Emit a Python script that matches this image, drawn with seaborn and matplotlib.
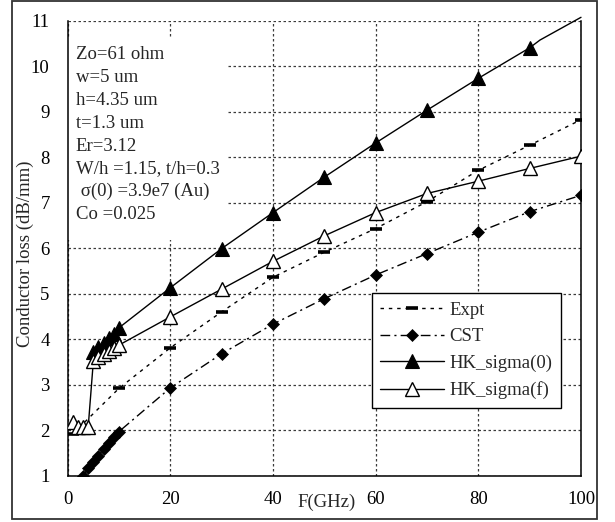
import matplotlib
matplotlib.use("Agg")
import matplotlib.pyplot as plt
import matplotlib.transforms as mtransforms
from matplotlib.patches import Rectangle
import numpy as np
import pandas as pd
import seaborn as sns

# ---------------- data ----------------
freq_expt = [1, 10, 20, 30, 40, 50, 60, 70, 80, 90, 100]
loss_expt = [1.92, 2.92, 3.81, 4.60, 5.36, 5.91, 6.43, 7.02, 7.71, 8.26, 8.82]

freq_cst = [3, 4, 5, 6, 7, 8, 9, 10, 20, 30, 40, 50, 60, 70, 80, 90, 100]
loss_cst = [1.00, 1.16, 1.30, 1.44, 1.58, 1.71, 1.84, 1.97, 2.93, 3.68,
            4.33, 4.89, 5.41, 5.88, 6.35, 6.80, 7.16]

freq_hk0 = [5, 6, 7, 8, 9, 10, 20, 30, 40, 50, 60, 70, 80, 90, 92, 100]
loss_hk0 = [3.72, 3.82, 3.92, 4.02, 4.12, 4.25, 5.13, 5.99, 6.78, 7.56,
            8.31, 9.03, 9.73, 10.40, 10.57, 11.07]
hk0_marked = 14  # the last two points of this curve carry no marker

freq_hkf = [1, 2, 3, 4, 5, 6, 7, 8, 9, 10, 20, 30, 40, 50, 60, 70, 80, 90, 100]
loss_hkf = [2.17, 2.08, 2.07, 2.08, 3.52, 3.60, 3.67, 3.74, 3.80, 3.87,
            4.49, 5.10, 5.71, 6.27, 6.78, 7.20, 7.47, 7.75, 8.02]

series_names = ["Expt", "CST", "HK_sigma(0)", "HK_sigma(f)"]

info_lines = ["Zo=61 ohm", "w=5 um", "h=4.35 um", "t=1.3 um", "Er=3.12",
              "W/h =1.15, t/h=0.3", " \u03c3(0) =3.9e7 (Au)", "Co =0.025"]

x_ticks = [0, 20, 40, 60, 80, 100]
y_ticks = [1, 2, 3, 4, 5, 6, 7, 8, 9, 10, 11]
x_label = "F(GHz)"
y_label = "Conductor loss (dB/mm)"

# ---------------- style ----------------
sns.set_style("white")
plt.rcParams["font.family"] = ["Liberation Serif", "DejaVu Serif"]
FS = 13.5

W, H = 615, 522
fig = plt.figure(figsize=(W / 100, H / 100), dpi=100)
ax_l, ax_r, ax_t, ax_b = 67.7, 581.0, 20.5, 475.7
ax = fig.add_axes([ax_l / W, 1 - ax_b / H, (ax_r - ax_l) / W, (ax_b - ax_t) / H])

# outer frame of the chart
fig.patches.append(Rectangle((11.7 / W, 2.7 / H), (597 - 11.7) / W, (520.7 - 2.7) / H,
                             transform=fig.transFigure, fill=False,
                             edgecolor="#333333", linewidth=1.3, zorder=0))

ax.set_axisbelow(True)
ax.grid(True, color="#3a3a3a", linestyle=(0, (2, 2)), linewidth=0.9)

# white panel behind the annotation block (hides gridlines)
ax.add_patch(Rectangle((0, 6.18), 31.2, 10.64 - 6.18, facecolor="white",
                       edgecolor="none", zorder=1))

df_expt = pd.DataFrame({"f": freq_expt, "loss": loss_expt})
df_cst = pd.DataFrame({"f": freq_cst, "loss": loss_cst})
df_hk0 = pd.DataFrame({"f": freq_hk0, "loss": loss_hk0})
df_hkf = pd.DataFrame({"f": freq_hkf, "loss": loss_hkf})

common = dict(ax=ax, x="f", y="loss", sort=False, estimator=None, color="black")

sns.lineplot(data=df_expt, linestyle=(0, (2.5, 3.5)), linewidth=1.0,
             marker="_", markersize=8, markeredgewidth=2.6,
             markeredgecolor="black", markerfacecolor="black",
             label=series_names[0], zorder=3, **common)
sns.lineplot(data=df_cst, linestyle=(0, (7, 3, 1.5, 3)), linewidth=1.0,
             marker="D", markersize=6.3, markeredgewidth=0.5,
             markerfacecolor="black", markeredgecolor="black",
             label=series_names[1], zorder=3, **common)
sns.lineplot(data=df_hk0, linestyle="-", linewidth=1.0,
             marker="^", markersize=9.5, markeredgewidth=0.8,
             markerfacecolor="black", markeredgecolor="black",
             markevery=list(range(hk0_marked)), clip_on=False,
             label=series_names[2], zorder=4, **common)
sns.lineplot(data=df_hkf, linestyle="-", linewidth=1.0,
             marker="^", markersize=9.5, markeredgewidth=1.0,
             markerfacecolor="white", markeredgecolor="black",
             label=series_names[3], zorder=5, **common)

ax.set_xlim(0, 100)
ax.set_ylim(1, 11)
ax.set_xticks(x_ticks)
ax.set_yticks(y_ticks)
ax.tick_params(axis="both", direction="out", length=5, width=1.0,
               labelsize=FS, colors="black", pad=6)
ax.tick_params(axis="y", pad=8)
for side in ["left", "bottom", "right"]:
    ax.spines[side].set_visible(True)
    ax.spines[side].set_color("black")
    ax.spines[side].set_linewidth(1.1)
ax.spines["top"].set_visible(False)

ax.set_xlabel("")
ax.set_ylabel(y_label, fontsize=FS)
ax.yaxis.set_label_coords(-0.066, 0.487)

trans = mtransforms.blended_transform_factory(ax.transData, ax.transAxes)
ax.text(50.5, -0.0593, x_label, transform=trans, ha="center", va="center",
        fontsize=FS)

# annotation block
def px_to_y(py):
    return 1 + (ax_b - py) / ((ax_b - ax_t) / 10)

for i, line in enumerate(info_lines):
    py = 55 + i * 22.8
    ax.text(1.6, px_to_y(py), line, ha="left", va="center", fontsize=FS, zorder=6)

leg = ax.legend(loc="upper left", bbox_to_anchor=(0.592, 0.401), fontsize=FS,
                frameon=True, fancybox=False, edgecolor="black", framealpha=1,
                handlelength=3.4, handletextpad=0.3, labelspacing=0.5,
                borderpad=0.45, borderaxespad=0)
leg.get_frame().set_linewidth(1.0)
leg.set_zorder(10)

fig.savefig("out.png", dpi=100)
